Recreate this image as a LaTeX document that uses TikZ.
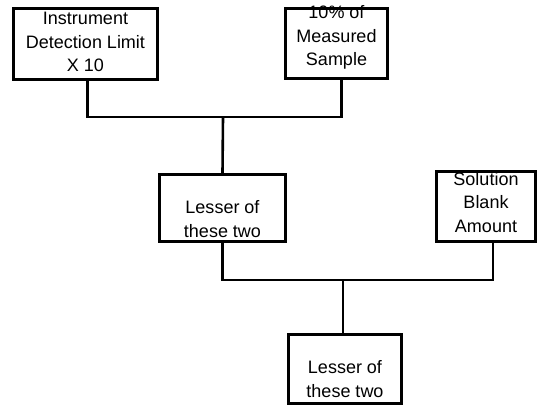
\documentclass[tikz,border=0pt]{standalone}
\usepackage{fontspec}
\setmainfont{Liberation Sans}

\begin{document}
\begin{tikzpicture}[x=1pt, y=-1pt,
	box/.style={draw, line width=3.2pt, inner sep=0pt},
	boxtext/.style={align=center, inner sep=0pt, font=\fontsize{18}{23.5}\selectfont},
	link/.style={line width=2.6pt}]
		\useasboundingbox (0,0) rectangle (540,409);
		\node[box, minimum width=144pt, minimum height=71pt, label={[boxtext, yshift=2pt]center:{Instrument\\Detection Limit\\X 10}}] (detect) at (85.5,44) {};
		\node[box, minimum width=102pt, minimum height=70pt, label={[boxtext, yshift=6pt]center:{10\% of\\Measured\\Sample}}] (sample) at (336.5,43.5) {};
		\node[box, minimum width=126pt, minimum height=67pt, label={[boxtext, yshift=-11pt]center:{Lesser of\\these two}}] (lesserA) at (222.5,208) {};
		\node[box, minimum width=99pt, minimum height=70pt, label={[boxtext, yshift=4pt]center:{Solution\\Blank\\Amount}}] (blank) at (486,206.5) {};
		\node[box, minimum width=113pt, minimum height=69pt, label={[boxtext, yshift=-10pt]center:{Lesser of\\these two}}] (lesserB) at (345,369) {};
		\coordinate (joinA) at (223,117);
		\coordinate (joinB) at (343,280);
		\draw[link] ([xshift=2pt]detect.south) |- (joinA) -| ([xshift=5pt]sample.south);
		\draw[link] (joinA) -- (lesserA.north);
		\draw[link] (lesserA.south) |- (joinB) -| ([xshift=7pt]blank.south);
		\draw[link] (joinB) -- ([xshift=-2pt]lesserB.north);
\end{tikzpicture}
\end{document}
